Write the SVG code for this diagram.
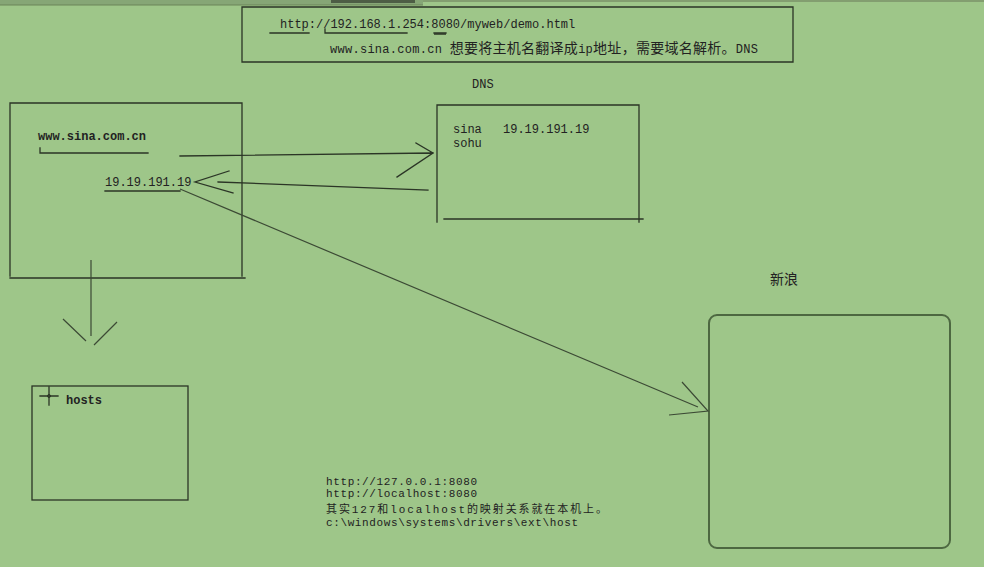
<svg xmlns="http://www.w3.org/2000/svg" width="984" height="567" viewBox="0 0 984 567">
<style>
.bg{fill:#9ec689}
.ln{stroke:#2b3526;stroke-width:1.3;fill:none;stroke-linecap:square}
.lt{stroke:#3c4a35;stroke-width:1.2;fill:none}
.t{font-family:"Liberation Mono","Noto Sans CJK SC",monospace;font-size:12px;fill:#222}
.s{font-size:11px}
.c{font-family:"Noto Sans CJK SC",sans-serif;font-size:14px}
.cs{font-family:"Noto Sans CJK SC",sans-serif;font-size:11px}
</style>
<rect class="bg" x="0" y="0" width="984" height="567"/>
<g id="topbar">
<rect x="0" y="0" width="423" height="5" fill="#86a676"/>
<line x1="0" y1="5" x2="423" y2="5" stroke="#6a8458" stroke-width="1"/>
<rect x="331" y="0" width="84" height="3" fill="#4d5d45"/>
<line x1="423" y1="1" x2="984" y2="1" stroke="#7a9068" stroke-width="1.5"/>
</g>
<g id="url-note">
<path class="ln" d="M242 7 H793 V62 H242 Z"/>
<text class="t" x="280" y="28">http://192.168.1.254:8080/myweb/demo.html</text>
<path class="ln" d="M270 33 H309 M325 29 V33 H407 M434 33 H446"/>
<line x1="434" y1="34" x2="446" y2="34" stroke="#2b3526" stroke-width="1.5"/>
<text class="t" x="330" y="53" textLength="428" lengthAdjust="spacing">www.sina.com.cn <tspan class="c">想要将主机名翻译成</tspan>ip<tspan class="c">地址，需要域名解析。</tspan>DNS</text>
</g>
<g id="browser">
<path class="ln" d="M10 103 H242 M10 103 V276 M242 103 V276 M10 278 H245"/>
<text class="t" x="38" y="140" font-weight="bold">www.sina.com.cn</text>
<path class="ln" d="M40 148 V153 H148"/>
<text class="t" x="105" y="186" font-size="13">19.19.191.19</text>
<path class="ln" d="M105 191 H180"/>
</g>
<g id="dns">
<text class="t" x="472" y="88">DNS</text>
<path class="ln" d="M437 105 H639 M437 105 V222 M639 105 V222 M444 219 H643"/>
<text class="t" x="453" y="133">sina</text>
<text class="t" x="503" y="133">19.19.191.19</text>
<text class="t" x="453" y="147">sohu</text>
</g>
<g id="hosts">
<rect class="ln" x="32" y="386" width="156" height="114"/>
<path class="ln" d="M40 396 H58 M49 387 V405"/>
<circle cx="49" cy="396" r="1.5" fill="none" stroke="#2b3526" stroke-width="1"/>
<text class="t" x="66" y="404" font-weight="bold">hosts</text>
</g>
<g id="sina-server">
<text class="t" x="770" y="284"><tspan class="c">新浪</tspan></text>
<rect x="709" y="315" width="241" height="233" rx="8" ry="8" fill="none" stroke="#4d6841" stroke-width="2"/>
</g>
<g id="local-note">
<text class="t s" x="326" y="485" textLength="151" lengthAdjust="spacing">http://127.0.0.1:8080</text>
<text class="t s" x="326" y="497" textLength="151" lengthAdjust="spacing">http://localhost:8080</text>
<text class="t s" x="326" y="512.5" textLength="281" lengthAdjust="spacing"><tspan class="cs">其实</tspan>127<tspan class="cs">和</tspan>localhost<tspan class="cs">的映射关系就在本机上。</tspan></text>
<text class="t s" x="326" y="526" textLength="252" lengthAdjust="spacing">c:\windows\systems\drivers\ext\host</text>
</g>
<g id="connectors">
<path class="ln" d="M180 156 L433 153 M416 143 L433 153 L397 177"/>
<path class="ln" d="M428 190 L218 182 M229 171 L195 182 L233 193"/>
<path class="lt" d="M180 189 L698 407 M682 382 L708 411 L669 415"/>
<path class="lt" d="M91 260 V336 M63 319 L86 341 M117 322 L94 345"/>
</g>
</svg>
